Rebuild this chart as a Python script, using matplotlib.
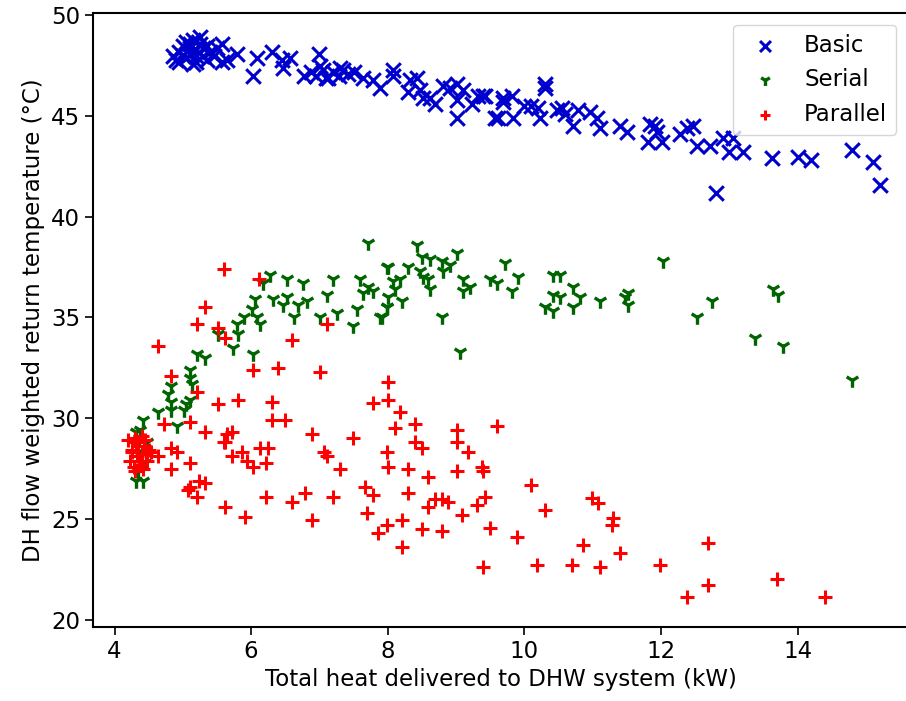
import numpy as np
import matplotlib
matplotlib.use("Agg")
import matplotlib.pyplot as plt

# Basic configuration (blue x)
basic_x = [4.85, 4.9, 4.95, 5.0, 5.05, 5.1, 5.1, 5.15, 5.2, 5.2, 5.25, 5.3, 5.3, 5.35, 5.0,
           5.05, 5.15, 5.4, 4.95, 5.25, 5.35, 5.45, 5.5, 5.1, 5.2,
           5.57, 5.57, 5.79, 5.65, 6.03, 6.08, 6.30, 6.45, 6.47, 6.57, 6.77, 6.99, 7.01,
           6.87, 6.95, 7.05, 7.12, 7.2, 7.28, 7.35, 7.42, 7.5, 7.1, 7.3,
           7.64, 7.79, 7.89, 8.08, 8.08, 8.33, 8.43, 8.30, 8.47, 8.52, 8.62, 8.69,
           8.81, 8.91, 9.01, 9.10, 9.01, 9.23, 9.32, 9.39, 9.01, 9.69, 9.61,
           9.42, 9.69, 9.82, 9.57, 9.83, 10.0, 10.1, 10.2, 10.23, 10.3, 10.3,
           10.48, 10.59, 10.55, 10.71, 10.78, 10.96, 11.06, 11.1, 11.40, 11.5,
           11.84, 11.91, 11.81, 12.01, 11.94, 12.27, 12.38, 12.47, 12.52, 12.71, 12.8,
           12.9, 13.05, 13.0, 13.2, 13.62, 14.0, 14.2, 14.8, 15.1, 15.2]
basic_y = [48.0, 47.8, 48.2, 48.5, 47.9, 48.6, 48.1, 48.8, 48.3, 47.7, 48.6, 48.0, 48.4, 47.8, 48.0,
           48.7, 47.6, 48.2, 47.7, 48.9, 48.5, 48.0, 48.4, 48.4, 48.0,
           48.6, 47.7, 48.1, 47.8, 47.0, 47.9, 48.2, 47.8, 47.4, 47.9, 47.0, 48.1, 47.5,
           47.2, 47.0, 47.3, 46.9, 47.2, 47.0, 47.3, 47.1, 47.2, 46.9, 47.4,
           46.9, 46.8, 46.4, 47.3, 47.0, 46.8, 46.9, 46.2, 46.3, 45.9, 45.9, 45.6,
           46.5, 46.4, 46.6, 46.3, 45.8, 45.6, 46.0, 46.0, 44.9, 45.9, 44.9,
           46.0, 45.7, 46.0, 44.9, 44.9, 45.5, 45.5, 45.4, 44.9, 46.6, 46.4,
           45.3, 45.1, 45.4, 44.5, 45.3, 45.2, 44.9, 44.4, 44.5, 44.2,
           44.6, 44.5, 43.7, 43.7, 44.2, 44.1, 44.4, 44.5, 43.5, 43.5, 41.2,
           43.9, 43.9, 43.2, 43.2, 42.9, 42.95, 42.8, 43.3, 42.7, 41.6]

# Serial configuration (green tri)
serial_x = [7.71, 7.99, 6.28, 6.53, 6.76, 7.2, 6.18, 7.6, 7.71, 7.79, 7.64,
            6.06, 6.32, 6.53, 6.47, 6.68, 6.82, 7.11, 6.01, 6.08, 6.13,
            5.80, 5.89, 5.81, 5.51, 5.73, 6.03, 6.62, 7.01, 7.26, 7.49, 7.55, 7.89, 7.99,
            5.21, 5.33, 5.11, 5.11, 5.14, 4.82, 4.79, 4.82, 4.82, 5.04, 5.01, 5.11,
            4.63, 4.92, 4.42, 4.38, 4.31, 4.31, 4.42, 4.35, 4.45, 4.40, 4.48, 4.36,
            8.43, 8.0, 8.3, 8.5, 8.62, 8.80, 9.01, 8.91, 8.08, 8.18, 8.47, 8.52, 8.59, 8.81,
            8.11, 8.0, 8.21, 7.99, 7.92, 8.62, 9.1, 9.1, 9.2, 9.5, 9.6, 9.72, 9.91, 9.82,
            8.8, 9.06, 10.42, 10.52, 10.71, 10.42, 10.52, 10.30, 10.42, 10.71, 10.81,
            11.1, 11.51, 11.47, 11.51, 12.03, 12.74, 12.52, 13.64, 13.71, 13.37, 13.78, 14.8]
serial_y = [38.7, 37.5, 37.1, 36.9, 36.7, 36.9, 36.7, 36.9, 36.5, 36.3, 36.2,
            35.9, 35.9, 36.0, 35.6, 35.6, 35.8, 36.1, 35.4, 35.0, 34.7,
            34.7, 35.0, 34.2, 34.2, 33.5, 33.2, 35.0, 35.0, 35.2, 34.6, 35.4, 35.0, 35.5,
            33.2, 33.0, 32.4, 32.0, 31.7, 31.6, 31.2, 30.8, 30.4, 30.7, 30.4, 30.9,
            30.3, 29.6, 29.9, 29.4, 29.3, 26.9, 26.9, 27.4, 27.8, 28.3, 28.8, 29.0,
            38.6, 37.5, 37.5, 38.0, 37.9, 37.8, 38.2, 37.6, 36.8, 36.9, 37.3, 37.0, 36.9, 37.3,
            36.4, 36.0, 35.8, 35.5, 35.0, 36.4, 36.9, 36.3, 36.5, 36.9, 36.7, 37.7, 37.0, 36.3,
            35.0, 33.3, 37.1, 37.1, 36.5, 36.1, 36.0, 35.5, 35.3, 35.5, 36.0,
            35.8, 36.2, 36.0, 35.6, 37.8, 35.8, 35.0, 36.4, 36.1, 34.0, 33.6, 31.9]

# Parallel configuration (red plus)
parallel_x = [5.60, 6.11, 5.33, 5.21, 5.52, 5.62, 4.63, 7.11, 6.6, 4.82, 5.21,
              6.03, 6.40, 7.01, 5.52, 5.81, 6.31, 6.31, 6.50, 4.72, 5.11,
              5.33, 5.72, 5.62, 6.89, 7.49, 4.82, 4.92, 5.11, 4.82, 4.63,
              4.20, 4.25, 4.30, 4.35, 4.40, 4.45, 4.50, 4.22, 4.28, 4.33, 4.38, 4.43,
              4.48, 4.25, 4.32, 4.40, 4.46, 4.30, 4.36, 4.42, 4.53,
              5.72, 5.87, 5.94, 6.03, 6.13, 6.24, 6.21, 7.06, 7.11, 7.30,
              7.79, 8.0, 8.0, 8.18, 8.11, 8.40, 8.40, 8.50, 7.99, 8.0, 8.30, 8.59,
              9.01, 9.01, 9.17, 9.6, 9.01, 9.38, 9.39,
              7.67, 7.79, 7.70, 7.86, 7.99, 8.21, 8.30, 8.21,
              8.59, 8.69, 8.80, 8.88, 8.50, 8.80, 9.09, 9.31, 9.42, 9.50, 9.39,
              6.79, 6.60, 6.21, 6.89, 7.2, 5.62, 5.91,
              5.11, 5.07, 5.23, 5.33, 5.21, 5.65, 5.60,
              10.1, 10.30, 9.89, 10.18, 10.99, 11.08, 11.30, 11.28, 10.86, 11.40,
              10.69, 11.1, 11.98, 12.68, 12.68, 12.38, 13.69, 14.40]
parallel_y = [37.4, 36.9, 35.5, 34.7, 34.5, 34.0, 33.6, 34.7, 33.9, 32.1, 31.3,
              32.4, 32.5, 32.3, 30.7, 30.9, 30.8, 29.9, 29.9, 29.7, 29.8,
              29.3, 29.3, 28.8, 29.2, 29.0, 28.5, 28.3, 27.8, 27.5, 28.1,
              28.9, 28.4, 29.0, 28.6, 28.2, 28.9, 28.4, 27.9, 27.6, 28.1, 27.7, 28.6,
              27.9, 28.3, 28.8, 29.1, 28.2, 27.4, 27.9, 27.5, 28.3,
              28.1, 28.3, 27.9, 27.6, 28.5, 28.5, 27.8, 28.3, 28.1, 27.5,
              30.75, 30.9, 31.8, 30.3, 29.5, 29.7, 28.8, 28.5, 28.3, 27.6, 27.5, 27.1,
              29.4, 28.8, 28.3, 29.6, 27.4, 27.6, 27.4,
              26.6, 26.2, 25.3, 24.3, 24.7, 24.95, 26.3, 23.6,
              25.6, 26.0, 26.0, 25.85, 24.5, 24.4, 25.2, 25.7, 26.1, 24.55, 22.6,
              26.3, 25.85, 26.1, 24.95, 26.1, 25.6, 25.1,
              26.6, 26.45, 26.9, 26.8, 26.1, 29.2, 28.8,
              26.7, 25.45, 24.1, 22.7, 26.05, 25.8, 25.05, 24.7, 23.7, 23.3,
              22.7, 22.6, 22.7, 23.8, 21.7, 21.1, 22.0, 21.1]

plt.rcParams['font.family'] = ['DejaVu Sans']
plt.rcParams['font.size'] = 16.5

fig = plt.figure(figsize=(9.06, 7.01), dpi=100)
# right spine sits just past the image edge, as in the cropped original
ax = fig.add_axes([0.103, 0.106, 0.899, 0.875])

ax.scatter(basic_x, basic_y, marker='x', s=110, c='#0000cc', linewidths=2.2, label='Basic')
ax.scatter(serial_x, serial_y, marker='1', s=110, c='#006400', linewidths=2.4, label='Serial')
ax.scatter(parallel_x, parallel_y, marker='+', s=100, c='#ff0000', linewidths=2.2, label='Parallel')

ax.set_xlim(3.69, 15.61)
ax.set_ylim(19.65, 50.1)
ax.set_xticks([4, 6, 8, 10, 12, 14])
ax.set_yticks([20, 25, 30, 35, 40, 45, 50])
ax.tick_params(labelsize=16.5, length=6, width=1.2)
for sp in ax.spines.values():
    sp.set_linewidth(1.5)

ax.set_xlabel('Total heat delivered to DHW system (kW)', fontsize=16.5)
ax.set_ylabel('DH flow weighted return temperature (\u00b0C)', fontsize=16.5)
ax.legend(loc='upper right', fontsize=16.5, markerscale=0.75, handletextpad=0.7,
          borderpad=0.4, borderaxespad=0.5)

fig.savefig('out.png', dpi=100)
